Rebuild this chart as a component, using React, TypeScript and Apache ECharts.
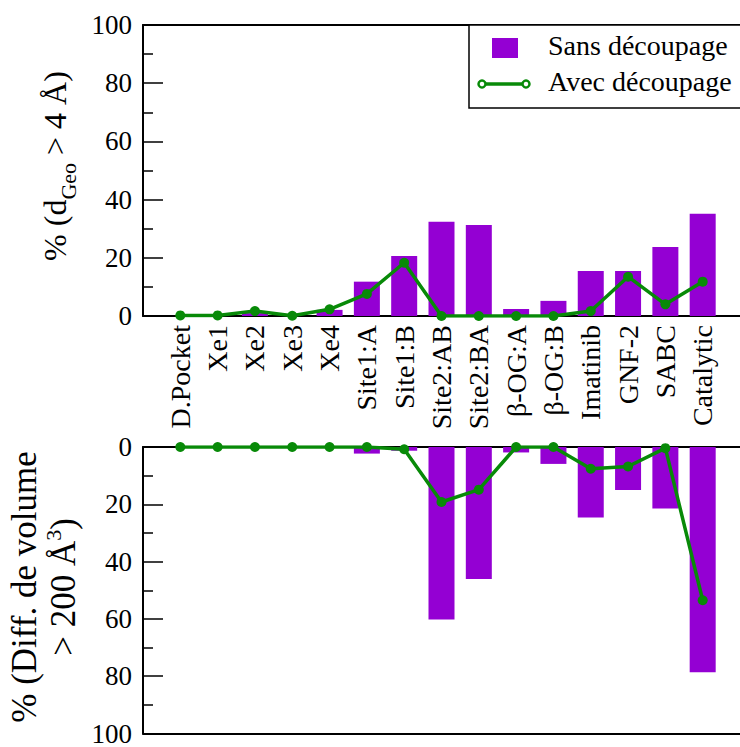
import React, { useEffect, useRef } from 'react';
import * as echarts from 'echarts';

const categories = ['D.Pocket', 'Xe1', 'Xe2', 'Xe3', 'Xe4', 'Site1:A', 'Site1:B', 'Site2:AB', 'Site2:BA', 'β-OG:A', 'β-OG:B', 'Imatinib', 'GNF-2', 'SABC', 'Catalytic'];
const geoSans = [0, 0, 1.0, 0, 2.1, 11.8, 20.6, 32.4, 31.3, 2.4, 5.2, 15.5, 15.5, 23.7, 35.1];
const geoAvec = [0.2, 0.2, 1.7, 0.1, 2.3, 7.6, 18.3, 0, 0, 0, 0, 1.7, 13.5, 4.0, 11.8];
const volSans = [0, 0, 0, 0, 0, 2.3, 1.3, 60.2, 46.1, 1.9, 5.9, 24.6, 15.0, 21.5, 78.6];
const volAvec = [0, 0, 0, 0, 0, 0, 0.8, 19.2, 14.9, 0, 0, 7.6, 6.8, 0.4, 53.5];
const seriesNames = ['Sans découpage', 'Avec découpage'];

const FONT = 'Liberation Serif, Times New Roman, serif';
const PURPLE = '#9400d3';
const GREEN = '#088a08';

export default function App() {
  const ref = useRef<HTMLDivElement>(null);
  useEffect(() => {
    if (!ref.current) return;
    const chart = echarts.init(ref.current, null, { renderer: 'svg' });
    const pts = (arr: number[]) => arr.map((v, i) => [i + 1, v]);
    const axisLine = { show: true, onZero: false, lineStyle: { color: '#000', width: 2 } };
    const xBase = { type: 'value', min: 0, max: 16, interval: 1, splitLine: { show: false }, axisTick: { show: false }, axisLine };
    const yBase = {
      type: 'value', min: 0, max: 100, interval: 20,
      splitLine: { show: false },
      axisLine,
      axisTick: { show: true, inside: true, length: 20, lineStyle: { color: '#000', width: 1.5 } },
      minorTick: { show: true, splitNumber: 2, length: 10, lineStyle: { color: '#000', width: 1.5 } },
      axisLabel: { margin: 11, fontFamily: FONT, fontSize: 27, color: '#000', padding: [4, 0, 0, 0] },
    };
    const lineSeries = (data: number[], xi: number, yi: number) => ({
      type: 'line', name: seriesNames[1], xAxisIndex: xi, yAxisIndex: yi, data: pts(data),
      symbol: 'circle', symbolSize: 10, z: 5,
      lineStyle: { color: GREEN, width: 3.5 }, itemStyle: { color: GREEN },
    });
    const barSeries = (data: number[], xi: number, yi: number) => ({
      type: 'bar', name: seriesNames[0], xAxisIndex: xi, yAxisIndex: yi, data: pts(data),
      barWidth: 26, itemStyle: { color: PURPLE },
    });
    chart.setOption({
      animation: false,
      textStyle: { fontFamily: FONT },
      grid: [
        { left: 143, top: 25, width: 605, height: 291 },
        { left: 143, top: 447, width: 605, height: 290 },
      ],
      xAxis: [
        {
          ...xBase, gridIndex: 0, position: 'bottom',
          axisLabel: {
            rotate: 90, margin: 9, fontFamily: FONT, fontSize: 28, color: '#000',
            formatter: (v: number) => categories[v - 1] ?? '',
          },
        },
        { ...xBase, gridIndex: 0, position: 'top', axisLabel: { show: false } },
        { ...xBase, gridIndex: 1, position: 'top', axisLabel: { show: false } },
        { ...xBase, gridIndex: 1, position: 'bottom', axisLabel: { show: false } },
      ],
      yAxis: [
        { ...yBase, gridIndex: 0 },
        { ...yBase, gridIndex: 1, inverse: true },
      ],
      series: [
        barSeries(geoSans, 0, 0),
        lineSeries(geoAvec, 0, 0),
        barSeries(volSans, 2, 1),
        lineSeries(volAvec, 2, 1),
      ],
      graphic: [
        {
          type: 'text', x: 59, y: 166, rotation: Math.PI / 2, z: 10,
          style: {
            text: '{m|% (d}{s|Geo}{m| > 4 Å)}',
            align: 'center', verticalAlign: 'middle',
            rich: {
              m: { fontFamily: FONT, fontSize: 32, fill: '#000', verticalAlign: 'bottom', padding: [0, 0, 8, 0] },
              s: { fontFamily: FONT, fontSize: 22, fill: '#000', verticalAlign: 'bottom' },
            },
          },
        },
        {
          type: 'text', x: 42, y: 587, rotation: Math.PI / 2, z: 10,
          style: {
            text: '{m|% (Diff. de volume}\n{m|> 200 Å}{s|3}{m|)}',
            align: 'center', verticalAlign: 'middle',
            rich: {
              m: { fontFamily: FONT, fontSize: 35, fill: '#000', verticalAlign: 'top', padding: [4, 0, 0, 0], align: 'center' },
              s: { fontFamily: FONT, fontSize: 22, fill: '#000', verticalAlign: 'top', align: 'center' },
            },
          },
        },
        {
          type: 'rect', z: 20,
          shape: { x: 469, y: 25, width: 290, height: 83 },
          style: { fill: '#fff', stroke: '#000', lineWidth: 1.5 },
        },
        {
          type: 'rect', z: 21,
          shape: { x: 492, y: 38, width: 26, height: 20 },
          style: { fill: PURPLE },
        },
        {
          type: 'text', x: 548, y: 45, z: 21,
          style: { text: seriesNames[0], fontFamily: FONT, fontSize: 28, fill: '#000', align: 'left', verticalAlign: 'middle' },
        },
        {
          type: 'line', z: 21,
          shape: { x1: 482, y1: 84, x2: 526, y2: 84 },
          style: { stroke: GREEN, lineWidth: 3.5 },
        },
        {
          type: 'circle', z: 22,
          shape: { cx: 482, cy: 84, r: 3.5 },
          style: { fill: '#fff', stroke: GREEN, lineWidth: 2.5 },
        },
        {
          type: 'circle', z: 22,
          shape: { cx: 526, cy: 84, r: 3.5 },
          style: { fill: '#fff', stroke: GREEN, lineWidth: 2.5 },
        },
        {
          type: 'text', x: 548, y: 81, z: 21,
          style: { text: seriesNames[1], fontFamily: FONT, fontSize: 28, fill: '#000', align: 'left', verticalAlign: 'middle' },
        },
      ],
    });
    return () => chart.dispose();
  }, []);
  return <div ref={ref} style={{ position: 'fixed', left: 0, top: 0, width: 740, height: 747, background: '#fff' }} />;
}
